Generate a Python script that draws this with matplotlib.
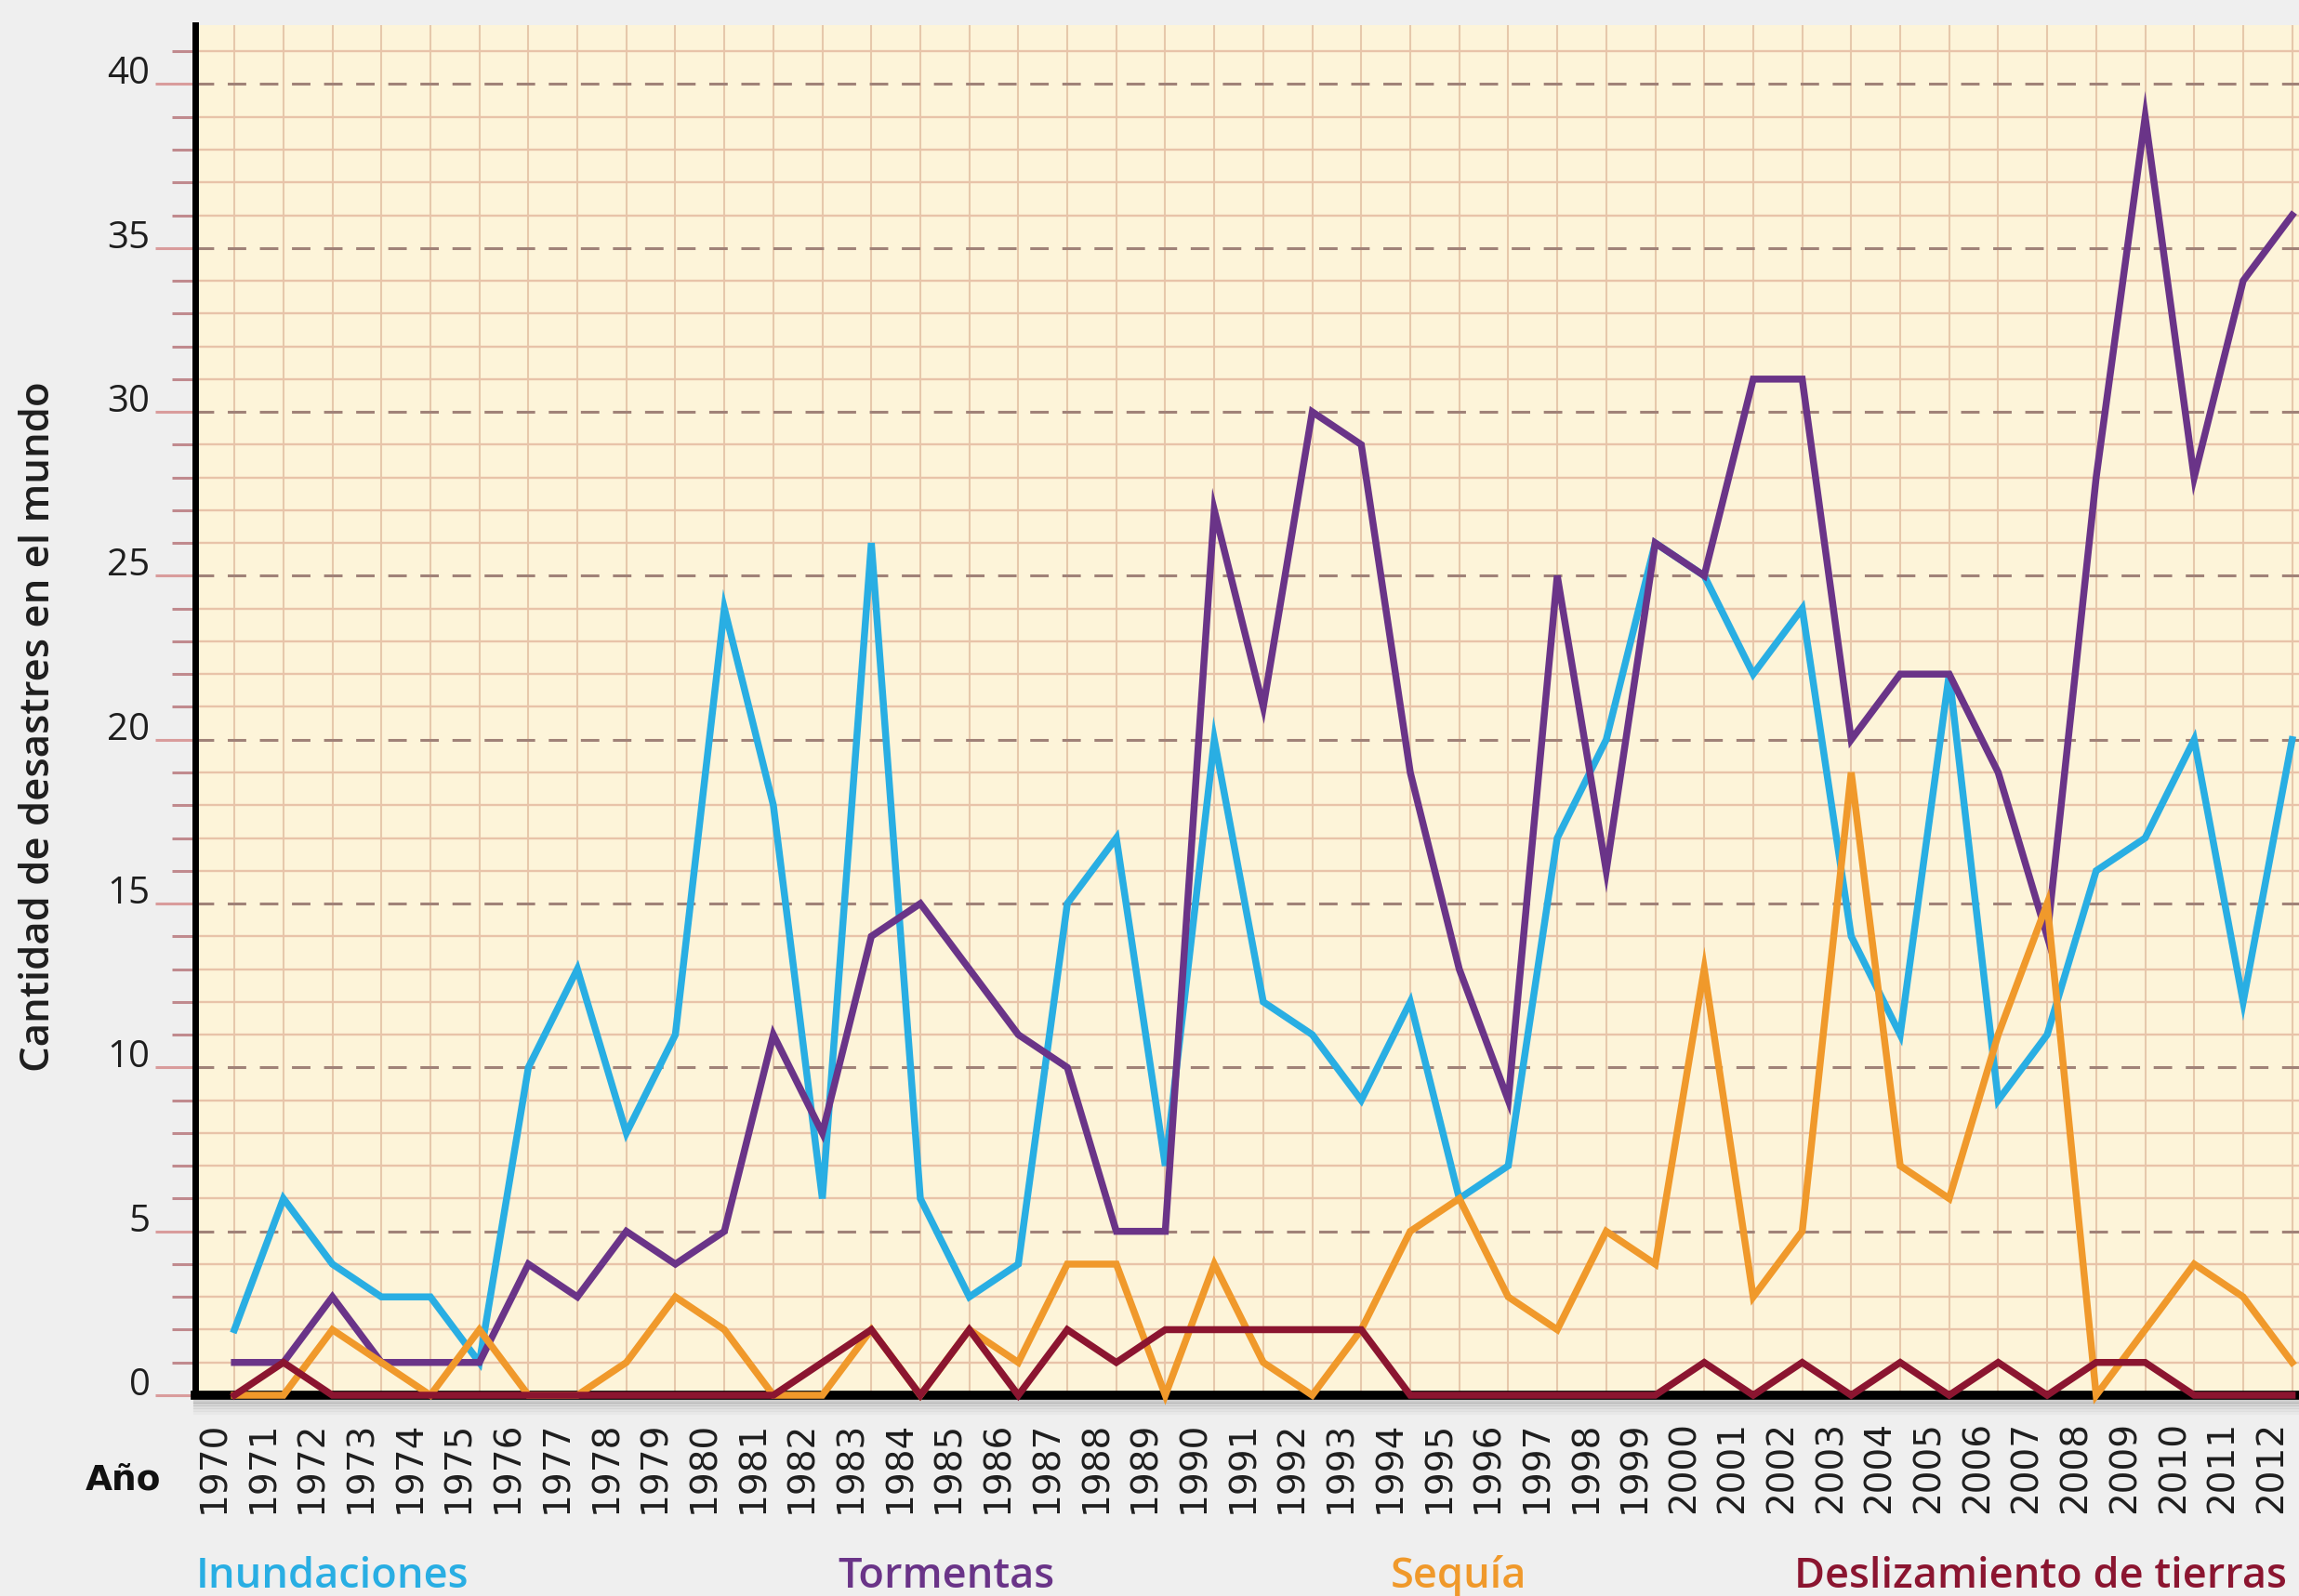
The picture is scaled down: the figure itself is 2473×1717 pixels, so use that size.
import matplotlib
matplotlib.use("Agg")
import matplotlib.pyplot as plt
import matplotlib.transforms as mtransforms

# --- datos: desastres naturales registrados por año ---
years = list(range(1970, 2013))

inundaciones = [2, 6, 4, 3, 3, 1, 10, 13, 8, 11,
                24, 18, 6, 26, 6, 3, 4, 15, 17, 7,
                20, 12, 11, 9, 12, 6, 7, 17, 20, 26,
                25, 22, 24, 14, 11, 22, 9, 11, 16, 17,
                20, 12, 20]
tormentas = [1, 1, 3, 1, 1, 1, 4, 3, 5, 4,
             5, 11, 8, 14, 15, 13, 11, 10, 5, 5,
             27, 21, 30, 29, 19, 13, 9, 25, 16, 26,
             25, 31, 31, 20, 22, 22, 19, 14, 28, 39,
             28, 34, 36]
sequia = [0, 0, 2, 1, 0, 2, 0, 0, 1, 3,
          2, 0, 0, 2, 0, 2, 1, 4, 4, 0,
          4, 1, 0, 2, 5, 6, 3, 2, 5, 4,
          13, 3, 5, 19, 7, 6, 11, 15, 0, 2,
          4, 3, 1]
deslizamientos = [0, 1, 0, 0, 0, 0, 0, 0, 0, 0,
                  0, 0, 1, 2, 0, 2, 0, 2, 1, 2,
                  2, 2, 2, 2, 0, 0, 0, 0, 0, 0,
                  1, 0, 1, 0, 1, 0, 1, 0, 1, 1,
                  0, 0, 0]

series = [inundaciones, tormentas, sequia, deslizamientos]
names = ["Inundaciones", "Tormentas", "Sequía", "Deslizamiento de tierras"]
colors = ["#29aee3", "#6a3488", "#f0992b", "#8b1530"]
name_x = [211, 901, 1496, 1930]  # posición de cada rótulo (px)

# --- figura ---
W, H, DPI = 2473, 1717, 100
fig = plt.figure(figsize=(W / DPI, H / DPI), dpi=DPI, facecolor="#efefef")
ax = fig.add_axes([210 / W, 216 / H, 1 - 210 / W, (1501 - 27) / H])
ax.set_facecolor("#fdf4d9")
ax.set_xlim(1969.2, 2012.14)
ax.set_ylim(0, 41.8)

# papel cuadriculado
ax.set_xticks(years)
ax.set_yticks(range(0, 41, 5))
ax.set_yticks(range(0, 42), minor=True)
ax.grid(which="major", axis="x", color="#e6c8ab", lw=1.5, zorder=0)
ax.grid(which="minor", axis="y", color="#e8c3a9", lw=1.7, zorder=0)
ax.grid(which="major", axis="y", color="#a08278", lw=2.2,
        linestyle=(0, (6.5, 4.8)), zorder=0)
ax.set_axisbelow(True)

for s in ["top", "right", "bottom"]:
    ax.spines[s].set_visible(False)
ax.spines["left"].set_color("black")
ax.spines["left"].set_linewidth(5)
ax.spines["left"].set_zorder(3)

# eje horizontal grueso con sombra
for i, a in enumerate([0.22, 0.16, 0.11, 0.07, 0.04]):
    sh = ax.axhline(0, color="#555555", lw=3, alpha=a, clip_on=False, zorder=1)
    sh.set_transform(ax.get_yaxis_transform() +
                     mtransforms.ScaledTranslation(0, -(7 + i * 3) / DPI, fig.dpi_scale_trans))
ax.axhline(0, color="black", lw=7, clip_on=False, zorder=3)

# series
for vals, c in zip(series, colors):
    ax.plot(years, vals, color=c, lw=5.4, solid_joinstyle="miter",
            clip_on=False, zorder=4)

# marcas del eje y
ax.tick_params(axis="y", which="major", length=31, width=2.2, color="#d99c9c",
               pad=4, labelsize=29, labelcolor="#1e1e1e")
ax.tick_params(axis="y", which="minor", length=18, width=2.2, color="#c08a8e")
for t in ax.get_yticklabels():
    t.set_fontfamily("Open Sans")
    t.set_verticalalignment("baseline")

# años en vertical
ax.tick_params(axis="x", which="both", length=0, pad=20, labelsize=28,
               labelrotation=90, labelcolor="#1e1e1e")
offset = mtransforms.ScaledTranslation(-22 / DPI, 0, fig.dpi_scale_trans)
for t in ax.get_xticklabels():
    t.set_transform(t.get_transform() + offset)

fig.text(92 / W, 1 - 1592 / H, "Año", fontsize=27, fontweight="bold",
         ha="left", va="center", color="#111111")

fig.text(42 / W, 1 - 782 / H, "Cantidad de desastres en el mundo",
         rotation=90, ha="center", va="center", fontsize=31.5,
         family="Open Sans", fontweight="semibold", color="#1e1e1e")

for nm, c, x in zip(names, colors, name_x):
    fig.text(x / W, 1 - 1708 / H, nm, ha="left", va="baseline", fontsize=32.5,
             family="Open Sans", fontweight="semibold", color=c)

fig.savefig("out.png", dpi=DPI, facecolor=fig.get_facecolor())
